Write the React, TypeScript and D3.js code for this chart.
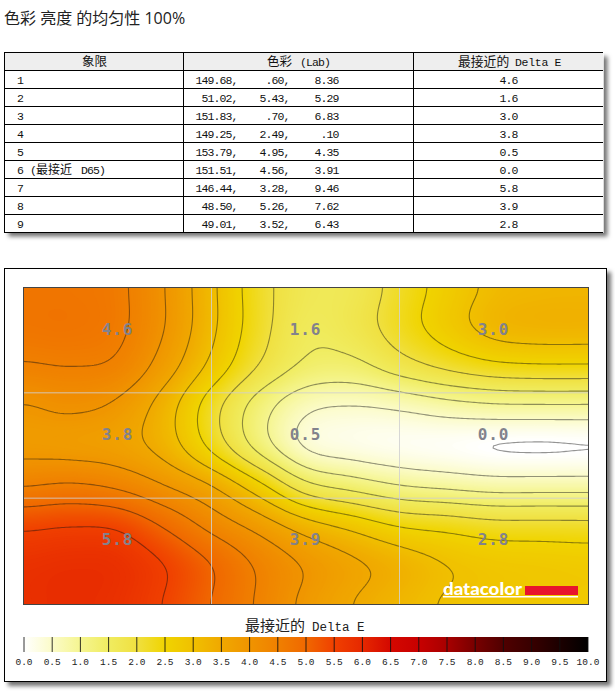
import React from 'react';
import * as d3 from 'd3';

// ---- table data ----
const quadrants = ['1', '2', '3', '4', '5', '6', '7', '8', '9'];
const labL = ['149.68,', '51.02,', '151.83,', '149.25,', '153.79,', '151.51,', '146.44,', '48.50,', '49.01,'];
const labA = ['.60,', '5.43,', '.70,', '2.49,', '4.95,', '4.56,', '3.28,', '5.26,', '3.52,'];
const labB = ['8.36', '5.29', '6.83', '.10', '4.35', '3.91', '9.46', '7.62', '6.43'];
const deltaE = ['4.6', '1.6', '3.0', '3.8', '0.5', '0.0', '5.8', '3.9', '2.8'];

// ---- map labels, in reading order of the 3x3 measuring grid ----
const mapLabels = ['4.6', '1.6', '3.0', '3.8', '0.5', '0.0', '5.8', '3.9', '2.8'];

// ---- Delta E at 13 columns x 9 rows ----
const field = [
  [4.72, 4.72, 4.6, 4.0, 3.1, 2.2, 1.7, 1.7, 2.2, 2.7, 3.1, 3.2, 3.22],
  [4.72, 4.74, 4.6, 4.0, 3.1, 2.2, 1.6, 1.75, 2.25, 2.75, 3.18, 3.28, 3.28],
  [4.45, 4.5, 4.4, 3.75, 2.85, 1.97, 1.4, 1.35, 1.75, 2.1, 2.35, 2.42, 2.42],
  [3.97, 4.08, 3.9, 3.25, 2.2, 1.25, 0.6, 0.48, 0.58, 0.78, 0.9, 0.92, 0.92],
  [3.85, 3.8, 3.7, 3.28, 2.35, 1.3, 0.42, 0.22, 0.12, 0.05, -0.042, -0.065, -0.042],
  [4.47, 4.56, 4.4, 4.0, 3.5, 2.65, 1.65, 1.29, 1.0, 0.87, 0.76, 0.76, 0.76],
  [5.41, 5.48, 5.42, 4.93, 4.32, 3.8, 3.22, 2.83, 2.45, 2.32, 2.17, 2.16, 2.15],
  [5.8, 5.86, 5.82, 5.5, 5.0, 4.42, 3.95, 3.6, 3.3, 3.0, 2.85, 2.8, 2.75],
  [5.84, 5.9, 5.8, 5.47, 4.98, 4.43, 3.88, 3.49, 3.2, 2.95, 2.85, 2.8, 2.78],
];

// ---- colour bar ----
const colorStops = [0, 0.5, 1, 1.5, 2, 2.5, 3, 3.5, 4, 4.5, 5, 5.5, 6, 6.5, 7, 7.5, 8, 8.5, 9, 9.5, 10];
const colorValues = ['#ffffff', '#fbfbc8', '#f5f590', '#f0ec60', '#f0e040', '#f0d400', '#f0c000', '#f0a800', '#f09400', '#f08000', '#f06800', '#f04000', '#e62800', '#d40800', '#c80000', '#a80000', '#780000', '#500000', '#380000', '#1c0000', '#000000'];
const colorTicks = colorStops.map(d => d.toFixed(1));
const levels = [0, 0.5, 1, 1.5, 2, 2.5, 3, 3.5, 4, 4.5, 5, 5.5];

const WIDTH = 615;
const HEIGHT = 693;
const plot = { left: 24, top: 288, right: 588, bottom: 604 };
const rowH = 18;
const tableTop = 52;
const colX = [4, 183, 413, 603];
const mono = '"Liberation Mono", monospace';
const cjk = '"Noto Sans CJK SC", sans-serif';

const color = d3.scaleLinear<string>().domain(colorStops).range(colorValues).clamp(true);

// catmull-rom between the read values, only to get a smooth surface for the contours
const cubic = (p0: number, p1: number, p2: number, p3: number, t: number) =>
  0.5 * (2 * p1 + (p2 - p0) * t + (2 * p0 - 5 * p1 + 4 * p2 - p3) * t * t + (3 * p1 - p0 - 3 * p2 + p3) * t * t * t);

const sample = (fx: number, fy: number) => {
  const rows = field.length;
  const cols = field[0].length;
  const j = Math.min(Math.floor(fy), rows - 2);
  const i = Math.min(Math.floor(fx), cols - 2);
  const tx = fx - i;
  const ty = fy - j;
  const at = (r: number, c: number) => field[Math.max(0, Math.min(rows - 1, r))][Math.max(0, Math.min(cols - 1, c))];
  const r = [-1, 0, 1, 2].map(dr => cubic(at(j + dr, i - 1), at(j + dr, i), at(j + dr, i + 1), at(j + dr, i + 2), tx));
  return cubic(r[0], r[1], r[2], r[3], ty);
};

const STEP = 2;
const gridW = Math.round((plot.right - plot.left) / STEP) + 1;
const gridH = Math.round((plot.bottom - plot.top) / STEP) + 1;
const values: number[] = [];
for (let y = 0; y < gridH; y++) {
  for (let x = 0; x < gridW; x++) {
    values.push(sample((x / (gridW - 1)) * (field[0].length - 1), (y / (gridH - 1)) * (field.length - 1)));
  }
}
// take the reading wobble out of the contour lines
d3.blur2({ data: values, width: gridW, height: gridH }, 3);

const projection = d3.geoTransform({
  point(x, y) {
    (this as any).stream.point(plot.left + (x - 0.5) * STEP, plot.top + (y - 0.5) * STEP);
  },
});
const path = d3.geoPath(projection);
const contours = d3.contours().size([gridW, gridH]);
const fillThresholds = d3.range(-0.1, 6.3, 0.025);

const x = d3.scaleLinear().domain([0, 10]).range([plot.left, plot.right]);
const cellX = d3.scaleBand<number>().domain([0, 1, 2]).range([plot.left, plot.right]);
const cellY = d3.scaleBand<number>().domain([0, 1, 2]).range([plot.top, plot.bottom]);

// SimSun-like fixed 6px advance, taller than a 10px mono would be
const Num = (props: any) => (
  <text fontFamily={mono} fontSize={11.5} letterSpacing={-0.9} fill="#111" {...props} />
);

export default function App() {
  const tableH = rowH * (quadrants.length + 1);
  return (
    <svg width={WIDTH} height={HEIGHT} style={{ position: 'absolute', left: 0, top: 0, background: '#fff' }}>
      <defs>
        <filter id="shadow" x="-5%" y="-5%" width="112%" height="112%">
          <feDropShadow dx={4} dy={4} stdDeviation={2} floodColor="#000" floodOpacity={0.55} />
        </filter>
        <clipPath id="plotClip">
          <rect x={plot.left} y={plot.top} width={plot.right - plot.left} height={plot.bottom - plot.top} />
        </clipPath>
        <linearGradient id="barGrad" x1="0" x2="1" y1="0" y2="0">
          {colorStops.map((d, i) => (
            <stop key={i} offset={d / 10} stopColor={colorValues[i]} />
          ))}
        </linearGradient>
      </defs>

      <text x={4} y={24} fontFamily={'"Open Sans", "Noto Sans CJK SC", sans-serif'} fontSize={16} fill="#222">
        色彩 亮度 的均匀性 100%
      </text>

      {/* table */}
      <rect x={colX[0] + 0.5} y={tableTop + 0.5} width={colX[3] - colX[0]} height={tableH} fill="#fff" filter="url(#shadow)" />
      <rect x={colX[0]} y={tableTop} width={colX[3] - colX[0]} height={rowH} fill="#eeeeee" />
      {d3.range(quadrants.length + 2).map(i => (
        <line key={i} x1={colX[0]} x2={colX[3]} y1={tableTop + i * rowH + 0.5} y2={tableTop + i * rowH + 0.5} stroke="#000" />
      ))}
      {[colX[0], colX[1], colX[2]].map((cx, i) => (
        <line key={i} x1={cx + 0.5} x2={cx + 0.5} y1={tableTop} y2={tableTop + tableH} stroke="#000" />
      ))}
      <text x={82} y={tableTop + 14} fontFamily={cjk} fontSize={12.5} fill="#111">象限</text>
      <text x={267} y={tableTop + 14} fontFamily={cjk} fontSize={12.5} fill="#111">色彩</text>
      <Num x={300} y={tableTop + 14}>(Lab)</Num>
      <text x={458} y={tableTop + 14} fontFamily={cjk} fontSize={12.8} fill="#111">最接近的</text>
      <Num x={515} y={tableTop + 14} letterSpacing={-0.3}>Delta E</Num>
      {quadrants.map((q, i) => {
        const y = tableTop + (i + 1) * rowH + 14;
        return (
          <g key={i}>
            <Num x={17} y={y}>{q}</Num>
            {i === 5 && (
              <>
                <Num x={30} y={y}>(</Num>
                <text x={36} y={y} fontFamily={cjk} fontSize={12} fill="#111">最接近</text>
                <Num x={81} y={y}>D65)</Num>
              </>
            )}
            <Num x={237.5} y={y} textAnchor="end">{labL[i]}</Num>
            <Num x={289.5} y={y} textAnchor="end">{labA[i]}</Num>
            <Num x={338.5} y={y} textAnchor="end">{labB[i]}</Num>
            <Num x={508.5} y={y} textAnchor="middle">{deltaE[i]}</Num>
          </g>
        );
      })}

      {/* chart box */}
      <rect x={4.5} y={268.5} width={602} height={413} fill="#fff" stroke="#000" filter="url(#shadow)" />

      <rect x={plot.left} y={plot.top} width={plot.right - plot.left} height={plot.bottom - plot.top} fill={color(-1)} />
      <g clipPath="url(#plotClip)">
        {contours.thresholds(fillThresholds)(values).map(c => (
          <path key={c.value} d={path(c as any) ?? ''} fill={color(c.value + 0.0125)} />
        ))}
        {contours.thresholds(levels)(values).map(c => (
          <path key={c.value} d={path(c as any) ?? ''} fill="none" stroke="#111" strokeOpacity={0.45} strokeWidth={1.1} />
        ))}
        {cellX.domain().slice(1).map(i => (
          <line key={i} x1={(cellX(i) as number) - 0.5} x2={(cellX(i) as number) - 0.5} y1={plot.top} y2={plot.bottom} stroke="#d0d0d0" strokeOpacity={0.85} />
        ))}
        {cellY.domain().slice(1).map(i => (
          <line key={i} y1={(cellY(i) as number) - 0.5} y2={(cellY(i) as number) - 0.5} x1={plot.left} x2={plot.right} stroke="#d0d0d0" strokeOpacity={0.85} />
        ))}
      </g>
      {mapLabels.map((label, i) => {
        const col = i % 3;
        const row = Math.floor(i / 3);
        return (
          <text
            key={i}
            x={(cellX(col) as number) + cellX.bandwidth() / 2 - 0.5}
            y={(cellY(row) as number) + cellY.bandwidth() / 2 - 6}
            textAnchor="middle"
            fontFamily='"DejaVu Sans Mono", monospace'
            fontWeight="bold"
            fontSize={16}
            letterSpacing={0.8}
            fill="#82828c"
          >
            {label}
          </text>
        );
      })}
      <rect x={plot.left - 0.5} y={plot.top - 0.5} width={plot.right - plot.left + 1} height={plot.bottom - plot.top + 1} fill="none" stroke="#444" />

      {/* logo */}
      <text x={443} y={595} fontFamily='"Lato", sans-serif' fontWeight={900} fontSize={17} fill="#fff" textLength={79} lengthAdjust="spacingAndGlyphs">
        datacolor
      </text>
      <rect x={525} y={586} width={53} height={9} fill="#e8142c" />
      <rect x={443} y={596} width={135} height={1.5} fill="#fff" />

      {/* colour bar */}
      <text x={245} y={631} fontFamily={cjk} fontSize={15} fill="#222">最接近的</text>
      <text x={312} y={631} fontFamily={mono} fontSize={12.5} fill="#222">Delta E</text>
      <rect x={plot.left} y={637} width={plot.right - plot.left} height={15} fill="url(#barGrad)" />
      {colorStops.map((d, i) => (
        <g key={i}>
          <line x1={x(d)} x2={x(d)} y1={637} y2={652} stroke="#111" strokeOpacity={0.85} />
          <text x={x(d)} y={665} textAnchor="middle" fontFamily={mono} fontSize={9.5} fill="#222">{colorTicks[i]}</text>
        </g>
      ))}
    </svg>
  );
}
